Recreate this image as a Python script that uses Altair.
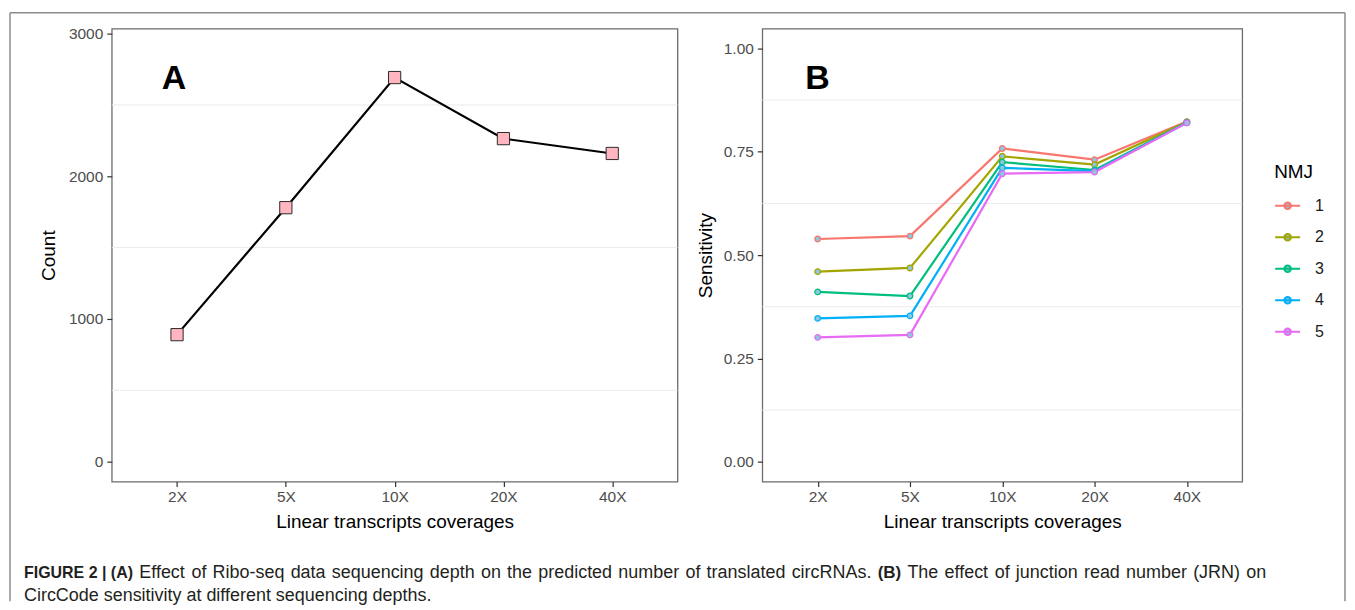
import altair as alt
import pandas as pd

FONT = "Liberation Sans"

# ---------------- data ----------------
coverages = ["2X", "5X", "10X", "20X", "40X"]
counts = [890, 1780, 2692, 2264, 2160]

nmj_levels = ["1", "2", "3", "4", "5"]
sens_nmj1 = [0.539, 0.546, 0.758, 0.731, 0.823]
sens_nmj2 = [0.460, 0.469, 0.739, 0.719, 0.822]
sens_nmj3 = [0.411, 0.401, 0.725, 0.706, 0.821]
sens_nmj4 = [0.347, 0.353, 0.711, 0.703, 0.820]
sens_nmj5 = [0.301, 0.307, 0.697, 0.701, 0.820]
nmj_colors = ["#F8766D", "#A3A500", "#00BF7D", "#00B0F6", "#E76BF3"]

count_ticks = [0, 1000, 2000, 3000]
count_minor = [500, 1500, 2500]
sens_ticks = [0, 0.25, 0.5, 0.75, 1.0]
sens_minor = [0.125, 0.375, 0.625, 0.875]

x_title = "Linear transcripts coverages"
# caption line 1 as (text, bold) runs; it is justified in the figure
cap_runs_1 = [
    ("FIGURE 2 | (A)", True),
    ("Effect of Ribo-seq data sequencing depth on the predicted number of translated circRNAs.", False),
    ("(B)", True),
    ("The effect of junction read number (JRN) on", False),
]
cap_line_2 = "CircCode sensitivity at different sequencing depths."

# ---------------- tables ----------------
dfA = pd.DataFrame({"cov": coverages, "count": counts})
rows = []
for lvl, vals in zip(nmj_levels, [sens_nmj1, sens_nmj2, sens_nmj3, sens_nmj4, sens_nmj5]):
    for c, v in zip(coverages, vals):
        rows.append({"cov": c, "sens": v, "nmj": lvl})
dfB = pd.DataFrame(rows)
minorA = pd.DataFrame({"v": count_minor})
minorB = pd.DataFrame({"v": sens_minor})
one = pd.DataFrame({"a": [0]})

WA, WB, H = 567, 481, 454
OFF_B = 652  # panel B origin relative to panel A origin
ORIGIN_X = 110  # page x of panel A plot area

x_scale = alt.Scale(type="point", padding=0.6)

# Arial / Liberation Sans advance widths (per 1000 em) for caption layout
W_REG = {'a': 556, 'b': 556, 'c': 500, 'd': 556, 'e': 556, 'f': 278, 'g': 556, 'h': 556,
         'i': 222, 'j': 222, 'k': 500, 'l': 222, 'm': 833, 'n': 556, 'o': 556, 'p': 556,
         'q': 556, 'r': 333, 's': 500, 't': 278, 'u': 556, 'v': 500, 'w': 722, 'x': 500,
         'y': 500, 'A': 667, 'B': 667, 'C': 722, 'E': 667, 'J': 500, 'N': 722, 'R': 722,
         'T': 611, '(': 333, ')': 333, '-': 333, '.': 278, ' ': 278}
W_BOLD = {'F': 611, 'I': 278, 'G': 778, 'U': 722, 'R': 722, 'E': 667, '2': 556, '|': 280,
          '(': 333, ')': 333, 'A': 722, 'B': 722, ' ': 278}


def xaxis(width):
    return alt.X(
        "cov:N", sort=coverages, scale=x_scale,
        axis=alt.Axis(title=x_title, labelAngle=0, titleX=width / 2, titleY=40,
                      titleBaseline="middle", titleAlign="center"),
    )


def text_layer(txt, x, y, size, weight="normal", color="#231f20", align="left"):
    return alt.Chart(one).mark_text(
        text=txt, font=FONT, fontSize=size, fontWeight=weight, color=color,
        align=align, baseline="alphabetic",
    ).encode(x=alt.value(x), y=alt.value(y))


def rule_layer(x1, y1, x2, y2):
    return alt.Chart(one).mark_rule(color="#8c8c8c", strokeWidth=1.5).encode(
        x=alt.value(x1), x2=alt.value(x2), y=alt.value(y1), y2=alt.value(y2)
    )


# ---- justified caption line 1, word by word ----
CAP_BOLD_SIZE = 16
CAP_SIZE = 18
CAP_LEFT, CAP_RIGHT = 22, 1267
words = []
for txt, bold in cap_runs_1:
    if bold and txt.startswith("FIGURE"):
        words.append((txt, True, CAP_BOLD_SIZE))
    else:
        for w in txt.split(" "):
            words.append((w, bold, 17 if bold else CAP_SIZE))


def word_width(w, bold, size):
    table = W_BOLD if bold else W_REG
    return sum(table.get(ch, 556) for ch in w) * size / 1000.0


natural = sum(word_width(*w) for w in words)
gap = (CAP_RIGHT - CAP_LEFT - natural) / (len(words) - 1)
caption_layers = []
xpos = CAP_LEFT
for w, bold, size in words:
    caption_layers.append(
        text_layer(w, xpos - ORIGIN_X, 551, size, "bold" if bold else "normal")
    )
    xpos += word_width(w, bold, size) + gap
caption_layers.append(text_layer(cap_line_2, CAP_LEFT - ORIGIN_X, 573.5, CAP_SIZE))

# ---------------- panel A ----------------
scaleA = alt.Scale(domain=[-140, 3035], nice=False, zero=False)
axisA = alt.Axis(title="Count", values=count_ticks, format="d",
                 titleX=-63, titleY=H / 2, titleAngle=-90,
                 titleBaseline="middle", titleAlign="center")

gridA = alt.Chart(minorA).mark_rule(color="#EBEBEB", strokeWidth=1).encode(
    y=alt.Y("v:Q", scale=scaleA, axis=axisA)
)
lineA = alt.Chart(dfA).mark_line(color="black", strokeWidth=2.2).encode(
    x=xaxis(WA), y=alt.Y("count:Q", scale=scaleA, axis=axisA)
)
ptsA = alt.Chart(dfA).mark_point(
    shape="square", filled=True, fill="#FFB6C1", stroke="#2b2b2b", strokeWidth=1,
    size=150, opacity=1,
).encode(x=alt.X("cov:N", sort=coverages, scale=x_scale),
         y=alt.Y("count:Q", scale=scaleA, axis=axisA))

labelA = text_layer("A", 50, 61, 34, "bold", "black")

# outer figure frame (top, left, right edges)
frame_top = rule_layer(-102, -16, 1236, -16)
frame_left = rule_layer(-102, -16, -102, 574)
frame_right = rule_layer(1236, -16, 1236, 574)

panelA = alt.layer(
    gridA, lineA, ptsA, labelA, frame_top, frame_left, frame_right, *caption_layers
).properties(width=WA, height=H)

# ---------------- panel B ----------------
scaleB = alt.Scale(domain=[-0.048, 1.048], nice=False, zero=False)
axisB = alt.Axis(title="Sensitivity", values=sens_ticks, format=".2f",
                 titleX=-57, titleY=H / 2, titleAngle=-90,
                 titleBaseline="middle", titleAlign="center")
gridB = alt.Chart(minorB).mark_rule(color="#EBEBEB", strokeWidth=1).encode(
    y=alt.Y("v:Q", scale=scaleB, axis=axisB)
)
legend_symbol = "M-1,0L1,0M-0.26,0A0.26,0.26,0,1,1,0.26,0A0.26,0.26,0,1,1,-0.26,0"
color_scale = alt.Scale(domain=nmj_levels, range=nmj_colors)
lineB = alt.Chart(dfB).mark_line(strokeWidth=2.2).encode(
    x=xaxis(WB), y=alt.Y("sens:Q", scale=scaleB, axis=axisB),
    color=alt.Color(
        "nmj:N", scale=color_scale,
        legend=alt.Legend(
            title="NMJ", orient="none", legendX=OFF_B + 513, legendY=135,
            symbolType=legend_symbol, symbolSize=625, symbolStrokeWidth=2,
            symbolFillColor="#8DC7DF", titleFontSize=19, titleFontWeight="normal",
            titleFont=FONT, titleColor="black", labelFont=FONT, labelFontSize=16,
            labelColor="#1a1a1a", labelOffset=14, rowPadding=9.6, titlePadding=10,
            padding=0,
        ),
    ),
)
ptsB = alt.Chart(dfB).mark_point(
    shape="circle", filled=True, fill="#8DC7DF", strokeWidth=1.3, size=32, opacity=1,
).encode(
    x=alt.X("cov:N", sort=coverages, scale=x_scale),
    y=alt.Y("sens:Q", scale=scaleB, axis=axisB),
    stroke=alt.Stroke("nmj:N", scale=color_scale, legend=None),
)
labelB = text_layer("B", 43, 61, 34, "bold", "black")

panelB = alt.layer(gridB, lineB, ptsB, labelB).properties(width=WB, height=H)

chart = alt.hconcat(panelA, panelB, spacing=OFF_B - WA, bounds="flush").properties(
    padding={"left": 0, "top": 2, "right": 0, "bottom": 0}
).configure_view(
    stroke="#6b6b6b", strokeWidth=1.3
).configure_axis(
    grid=False, domain=False, labelFont=FONT, titleFont=FONT, labelFontSize=15.5,
    labelColor="#4D4D4D", tickColor="#333333", tickSize=5, tickWidth=1.2,
    labelPadding=4, titleFontSize=19, titleFontWeight="normal", titleColor="black",
).configure_axisX(labelPadding=3)

chart.save("out.html", embed_options={"renderer": "svg", "actions": False})
